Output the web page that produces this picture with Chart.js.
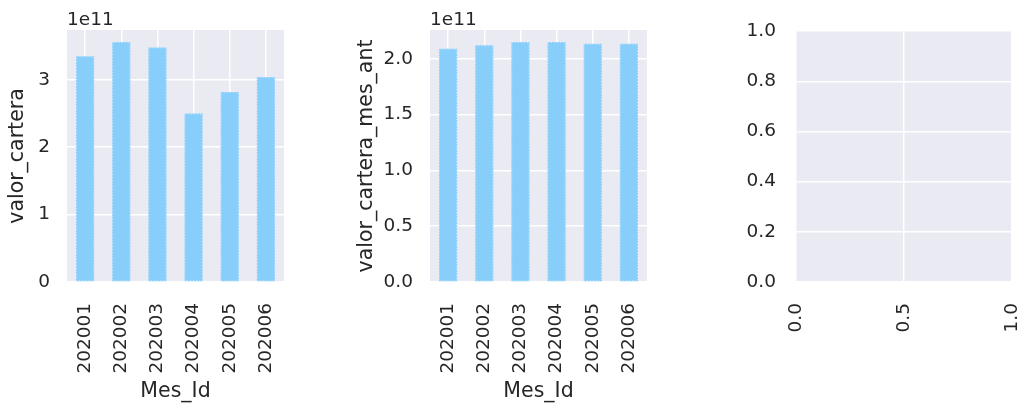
<!DOCTYPE html>
<html>
<head>
<meta charset="utf-8">
<script src="https://cdn.jsdelivr.net/npm/chart.js@4.4.1/dist/chart.umd.min.js"></script>
<style>
  html, body { margin: 0; padding: 0; background: #ffffff; }
  body { width: 1021px; height: 406px; position: relative; overflow: hidden; }
  .panel { position: absolute; top: 0; height: 406px; }
  #p1 { left: 0; width: 300px; }
  #p2 { left: 340px; width: 320px; }
  #p3 { left: 700px; width: 321px; }
</style>
</head>
<body>
<div class="panel" id="p1"><canvas id="chart1"></canvas></div>
<div class="panel" id="p2"><canvas id="chart2"></canvas></div>
<div class="panel" id="p3"><canvas id="chart3"></canvas></div>
<script>
// --- DATA ---
const mesId = ['202001', '202002', '202003', '202004', '202005', '202006'];
const valorCartera = [3.35e11, 3.56e11, 3.48e11, 2.50e11, 2.82e11, 3.04e11];
const valorCarteraMesAnt = [2.09e11, 2.12e11, 2.15e11, 2.15e11, 2.135e11, 2.135e11];

const carteraTicks = [0, 1e11, 2e11, 3e11];
const mesAntTicks = [0, 0.5e11, 1.0e11, 1.5e11, 2.0e11];
const emptyYTicks = [0, 0.2, 0.4, 0.6, 0.8, 1.0];
const emptyXTicks = [0, 0.5, 1.0];

// --- STYLE ---
const FONT = "'DejaVu Sans', sans-serif";
const TEXT = '#262626';
const PANEL_BG = '#eaeaf2';
const BAR_COLOR = '#87cefa';
const TICK_SIZE = 18.5;
const LABEL_SIZE = 20.5;

Chart.defaults.font.family = FONT;
Chart.defaults.color = TEXT;
Chart.defaults.animation = false;

// grey plot area like seaborn darkgrid
const panelBg = {
    id: 'panelBg',
    beforeDraw(chart) {
        const a = chart.chartArea;
        const ctx = chart.ctx;
        ctx.save();
        ctx.fillStyle = PANEL_BG;
        ctx.fillRect(a.left, a.top, a.right - a.left, a.bottom - a.top);
        ctx.restore();
    }
};

// dotted light edge on each bar
const dottedEdge = {
    id: 'dottedEdge',
    afterDatasetsDraw(chart) {
        const ctx = chart.ctx;
        chart.getSortedVisibleDatasetMetas().forEach(meta => {
            meta.data.forEach(bar => {
                const p = bar.getProps(['x', 'y', 'base', 'width']);
                ctx.save();
                ctx.strokeStyle = 'rgba(255,255,255,0.55)';
                ctx.lineWidth = 1;
                ctx.setLineDash([1, 2]);
                ctx.strokeRect(p.x - p.width / 2 + 0.5, p.y + 0.5, p.width - 1, p.base - p.y - 1);
                ctx.restore();
            });
        });
    }
};

// "1e11" offset text above the axis
const offsetText = {
    id: 'offsetText',
    afterDraw(chart, args, opts) {
        if (!opts.text) return;
        const ctx = chart.ctx;
        ctx.save();
        ctx.font = TICK_SIZE + 'px ' + FONT;
        ctx.fillStyle = TEXT;
        ctx.textAlign = 'left';
        ctx.textBaseline = 'alphabetic';
        ctx.fillText(opts.text, chart.chartArea.left, chart.chartArea.top - 5);
        ctx.restore();
    }
};

function fixedTicks(list) {
    return scale => { scale.ticks = list.map(v => ({ value: v })); };
}

// x axis: fixed height, no extra side padding for rotated labels
function fitX(scale) {
    scale.height = 124;
    scale.paddingLeft = 0;
    scale.paddingRight = 0;
}

function barChart(id, values, ticks, label, yWidth, padRight, titlePad, fmt) {
    const ctx = document.getElementById(id).getContext('2d');
    return new Chart(ctx, {
        type: 'bar',
        data: {
            labels: mesId,
            datasets: [{
                data: values,
                backgroundColor: BAR_COLOR,
                borderWidth: 0,
                categoryPercentage: 1.0,
                barPercentage: 0.5
            }]
        },
        options: {
            responsive: true,
            maintainAspectRatio: false,
            layout: { padding: { top: 30, right: padRight, bottom: 0, left: 0 } },
            plugins: {
                legend: { display: false },
                tooltip: { enabled: false },
                offsetText: { text: '1e11' }
            },
            scales: {
                x: {
                    offset: true,
                    border: { display: false },
                    grid: { color: '#ffffff', lineWidth: 1.5, offset: false, drawTicks: false },
                    ticks: { font: { size: TICK_SIZE }, minRotation: 90, maxRotation: 90, padding: 21, color: TEXT },
                    title: { display: true, text: 'Mes_Id', font: { size: LABEL_SIZE }, color: TEXT, padding: { top: 0, bottom: 2 } },
                    afterFit: fitX
                },
                y: {
                    min: 0,
                    max: Math.max(...values) * 1.05,
                    border: { display: false },
                    grid: { color: '#ffffff', lineWidth: 1.5, drawTicks: false },
                    ticks: { font: { size: TICK_SIZE }, padding: 17, color: TEXT, callback: v => fmt(v / 1e11) },
                    title: { display: true, text: label, font: { size: LABEL_SIZE }, color: TEXT, padding: { top: titlePad, bottom: 0 } },
                    afterBuildTicks: fixedTicks(ticks),
                    afterFit: s => { s.width = yWidth; }
                }
            }
        },
        plugins: [panelBg, dottedEdge, offsetText]
    });
}

barChart('chart1', valorCartera, carteraTicks, 'valor_cartera', 67, 16, 5, v => v.toFixed(0));
barChart('chart2', valorCarteraMesAnt, mesAntTicks, 'valor_cartera_mes_ant', 90, 13, 14, v => v.toFixed(1));

// third, empty axes
new Chart(document.getElementById('chart3').getContext('2d'), {
    type: 'scatter',
    data: { datasets: [{ data: [] }] },
    options: {
        responsive: true,
        maintainAspectRatio: false,
        layout: { padding: { top: 30, right: 9, bottom: 0, left: 0 } },
        plugins: { legend: { display: false }, tooltip: { enabled: false } },
        scales: {
            x: {
                type: 'linear', min: 0, max: 1,
                border: { display: false },
                grid: { color: '#ffffff', lineWidth: 1.5, drawTicks: false },
                ticks: { font: { size: TICK_SIZE }, minRotation: 90, maxRotation: 90, padding: 21, color: TEXT, callback: v => v.toFixed(1) },
                afterBuildTicks: fixedTicks(emptyXTicks),
                afterFit: fitX
            },
            y: {
                min: 0, max: 1,
                border: { display: false },
                grid: { color: '#ffffff', lineWidth: 1.5, drawTicks: false },
                ticks: { font: { size: TICK_SIZE }, padding: 20, color: TEXT, callback: v => v.toFixed(1) },
                afterBuildTicks: fixedTicks(emptyYTicks),
                afterFit: s => { s.width = 96; }
            }
        }
    },
    plugins: [panelBg]
});
</script>
</body>
</html>
